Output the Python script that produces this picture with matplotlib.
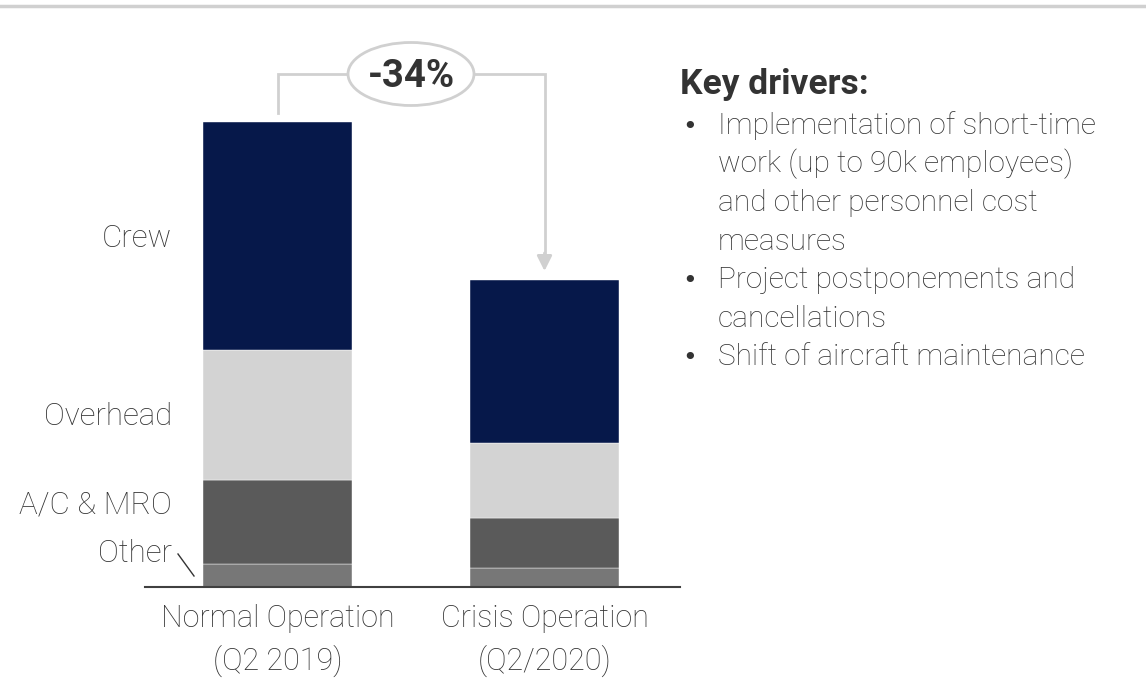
import matplotlib
matplotlib.use("Agg")
import matplotlib.pyplot as plt
from matplotlib.patches import Ellipse
import numpy as np

categories = ["Normal Operation\n(Q2 2019)", "Crisis Operation\n(Q2/2020)"]
segments = ["Other", "A/C & MRO", "Overhead", "Crew"]
other = [23, 19]
ac_mro = [84, 50]
overhead = [130, 75]
crew = [228, 163]
colors = ["#777777", "#5a5a5a", "#d3d3d3", "#06184a"]
drivers_title = "Key drivers:"
drivers = [
    "Implementation of short-time\nwork (up to 90k employees)\nand other personnel cost\nmeasures",
    "Project postponements and\ncancellations",
    "Shift of aircraft maintenance",
]

FONT = "Roboto"
TXT = "#333333"
W, H = 1146, 679
fig = plt.figure(figsize=(W / 100, H / 100), dpi=100)

# top rule
fig.add_artist(plt.Line2D([0, 1], [1 - 6 / H, 1 - 6 / H], color="#d0d0d0", lw=2.5))

ax_l, ax_r, ax_b, ax_t = 145, 680, 587, 40
ax = fig.add_axes([ax_l / W, (H - ax_b) / H, (ax_r - ax_l) / W, (ax_b - ax_t) / H])
x = np.arange(len(categories))
unit = 267.0
ax.set_xlim((ax_l - 277.5) / unit, (ax_r - 277.5) / unit)
ax.set_ylim(0, ax_b - ax_t)
width = 149 / unit

vals = [other, ac_mro, overhead, crew]
bottom = np.zeros(len(categories))
for v, c in zip(vals, colors):
    ax.bar(x, v, width, bottom=bottom, color=c, edgecolor="white", linewidth=0.3)
    bottom += np.array(v)
totals = bottom

for s in ["top", "right", "left"]:
    ax.spines[s].set_visible(False)
ax.spines["bottom"].set_color("#404040")
ax.spines["bottom"].set_linewidth(1.5)
ax.set_yticks([])
ax.set_xticks([])


def px_y(py):
    """pixel row (from top) -> data y"""
    return ax_b - py


# category labels (two lines each)
for xi, cat in zip(x, categories):
    l1, l2 = cat.split("\n")
    ax.text(xi, px_y(627), l1, ha="center", va="baseline", fontsize=22,
            color=TXT, family=FONT, fontweight="light", clip_on=False)
    ax.text(xi, px_y(670), l2, ha="center", va="baseline", fontsize=22,
            color=TXT, family=FONT, fontweight="light", clip_on=False)

# segment labels on the left of the first bar
lab_x = (172 - 277.5) / unit
label_base = {"Crew": 247, "Overhead": 425, "A/C & MRO": 513, "Other": 562}
for name in ["Crew", "Overhead", "A/C & MRO", "Other"]:
    ax.text(lab_x, px_y(label_base[name]), name, ha="right", va="baseline",
            fontsize=22.5, color=TXT, family=FONT, fontweight="light", clip_on=False)
ax.plot([(178 - 277.5) / unit, (194 - 277.5) / unit], [px_y(554), px_y(576)],
        color=TXT, lw=1)

# bracket with change
gap = 9
top_y = px_y(74)
lc = "#d0d0d0"
ax.plot([x[0], x[0], x[1], x[1]], [totals[0] + gap, top_y, top_y, totals[1] + 26],
        color=lc, lw=2, solid_joinstyle="miter", clip_on=False)
ax.annotate("", xy=(x[1], totals[1] + gap), xytext=(x[1], totals[1] + 27),
            arrowprops=dict(arrowstyle="-|>,head_length=0.9,head_width=0.45",
                            color=lc, lw=2, shrinkA=0, shrinkB=0),
            annotation_clip=False)
mid = (x[0] + x[1]) / 2
ax.add_patch(Ellipse((mid, top_y), 126 / unit, 63, facecolor="white",
                     edgecolor=lc, lw=2, clip_on=False, zorder=5))
change = (totals[1] / totals[0] - 1) * 100
ax.text(mid, px_y(87), f"{change:.0f}%", ha="center", va="baseline", fontsize=27.5,
        fontweight="bold", color=TXT, family=FONT, zorder=6, clip_on=False)

# key drivers text
fig.text(680 / W, 1 - 94 / H, drivers_title, ha="left", va="baseline", fontsize=25.5,
         fontweight="bold", color=TXT, family=FONT)
line_h = 38.5
y0 = 134
for d in drivers:
    fig.text(682 / W, 1 - y0 / H, "•", ha="left", va="baseline", fontsize=18,
             color=TXT, family="DejaVu Sans")
    for ln in d.split("\n"):
        fig.text(718 / W, 1 - y0 / H, ln, ha="left", va="baseline", fontsize=21.5,
                 color=TXT, family=FONT, fontweight="light")
        y0 += line_h

fig.savefig("out.png", dpi=100)
